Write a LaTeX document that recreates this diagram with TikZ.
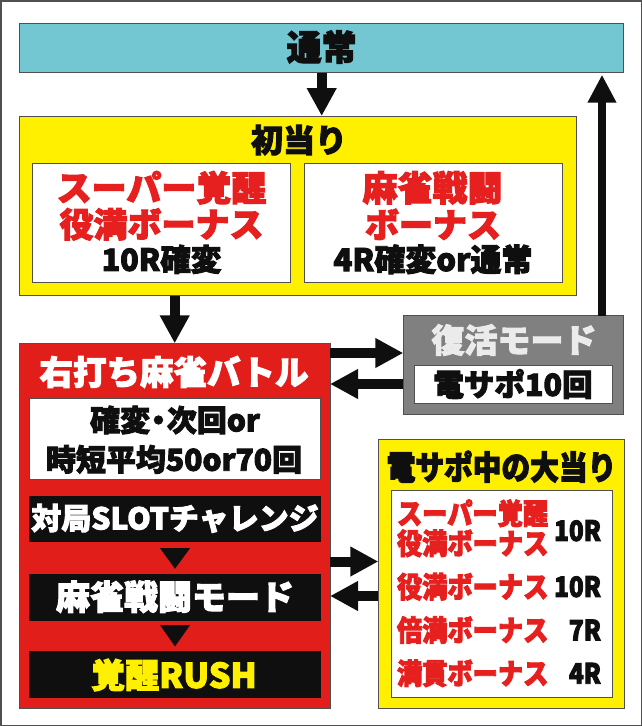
\documentclass[tikz,border=0pt]{standalone}
\usepackage{fontspec}
\usetikzlibrary{arrows.meta,calc}
\newfontfamily\jp{Noto Sans CJK JP}[BoldFeatures={FakeBold=3}]
\newfontfamily\jpc{Noto Sans CJK JP}[FakeStretch=0.87,BoldFeatures={FakeBold=3}]
\newcommand\fsz[1]{\fontsize{#1}{#1}\selectfont}
\newcommand\nakaguro{\hspace{-0.22em}・\hspace{-0.22em}}
\definecolor{cyanc}{RGB}{114,199,211}
\definecolor{yelc}{RGB}{255,240,0}
\definecolor{redc}{RGB}{226,30,26}
\definecolor{redt}{RGB}{230,32,30}
\definecolor{grayc}{RGB}{128,128,128}
\definecolor{lgrayt}{RGB}{235,235,235}
\definecolor{bordc}{RGB}{80,80,80}
\definecolor{blk}{RGB}{15,15,15}
\tikzset{
  box/.style={draw=bordc, line width=1pt, inner sep=0pt, outer sep=0pt},
  txt/.style={inner sep=0pt, outer sep=0pt, text=blk},
  farrow/.style={draw=blk, line width=10pt, -{Triangle[width=28pt,length=28pt]}},
  farrowthin/.style={draw=blk, line width=8.5pt, -{Triangle[width=27pt,length=28pt]}},
}
\begin{document}
\begin{tikzpicture}[x=1pt,y=-1pt]
\useasboundingbox (0,0) rectangle (642,726);
\fill[white] (0,0) rectangle (642,726);
\draw[bordc, line width=1.5pt] (0.75,0.75) rectangle (641.25,725.25);

% top box
\node[box, fill=cyanc, minimum width=604pt, minimum height=49.4pt] (tsujo) at (321.7,48) {};
\node[txt, font=\jp\bfseries\fsz{35}] (tsujoT) at (321.7,47) {通常};

% first hit
\node[box, fill=yelc, minimum width=556.3pt, minimum height=179.7pt] (hatsu) at (297.9,205.9) {};
\node[txt, font=\jp\bfseries\fsz{32}] (hatsuT) at (299,140) {初当り};
\node[box, fill=white, minimum width=257.5pt, minimum height=119pt] (hL) at (161.5,222.8) {};
\node[box, fill=white, minimum width=258pt, minimum height=119pt] (hR) at (433,222.8) {};
\node[txt, text=redt, font=\jp\bfseries\fsz{35}] (hL1) at (161.5,187.7) {スーパー覚醒};
\node[txt, text=redt, font=\jp\bfseries\fsz{34}] (hL2) at (161.5,224.3) {役満ボーナス};
\node[txt, font=\jp\bfseries\fsz{30.5}] (hL3) at (161.5,259.3) {10R確変};
\node[txt, text=redt, font=\jp\bfseries\fsz{35}] (hR1) at (432.5,187.7) {麻雀戦闘};
\node[txt, text=redt, font=\jp\bfseries\fsz{34}] (hR2) at (433,224.3) {ボーナス};
\node[txt, font=\jp\bfseries\fsz{31}] (hR3) at (433,259.3) {4R確変or通常};

% red battle box
\node[box, fill=redc, minimum width=310.7pt, minimum height=364.7pt] (red) at (174.7,525.7) {};
\node[txt, text=white, font=\jp\bfseries\fsz{33.5}] (redT) at (174,372) {右打ち麻雀バトル};
\node[box, fill=white, minimum width=291.4pt, minimum height=81pt] (rW) at (175,438.8) {};
\node[txt, font=\jp\bfseries\fsz{30}] (rW1) at (175,420) {確変\nakaguro 次回or};
\node[txt, font=\jp\bfseries\fsz{30}] (rW2) at (174,459.3) {時短平均50or70回};
\node[fill=blk, inner sep=0pt, minimum width=292pt, minimum height=46pt] (b1) at (175,518.7) {};
\node[fill=blk, inner sep=0pt, minimum width=292pt, minimum height=46.7pt] (b2) at (175,597.3) {};
\node[fill=blk, inner sep=0pt, minimum width=292pt, minimum height=46.7pt] (b3) at (175,674.3) {};
\node[txt, text=white, font=\jp\bfseries\fsz{30}] (b1T) at (175,518.3) {対局SLOTチャレンジ};
\node[txt, text=white, font=\jp\bfseries\fsz{34}] (b2T) at (175,596.7) {麻雀戦闘モード};
\node[txt, text=yelc, font=\jp\bfseries\fsz{34}] (b3T) at (174,675) {覚醒RUSH};
\fill[blk] ($(b1.south)+(-15,6.3)$) -- ($(b1.south)+(15,6.3)$) -- ($(b2.north)+(0,-5)$) -- cycle;
\fill[blk] ($(b2.south)+(-15,4.3)$) -- ($(b2.south)+(15,4.3)$) -- ($(b3.north)+(0,-4.3)$) -- cycle;

% revival mode
\node[box, fill=grayc, minimum width=220pt, minimum height=99.3pt] (fk) at (513.3,365.3) {};
\node[txt, text=lgrayt, font=\jp\bfseries\fsz{33}] (fkT) at (514,340) {復活モード};
\node[box, fill=white, minimum width=198pt, minimum height=38.3pt] (fkW) at (513,384.2) {};
\node[txt, font=\jp\bfseries\fsz{30.5}] (fkW1) at (513,384) {電サポ10回};

% densapo hits
\node[box, fill=yelc, minimum width=245.7pt, minimum height=269pt] (ds) at (501.2,573.8) {};
\node[txt, font=\jpc\bfseries\fsz{33}] (dsT) at (501.5,466.7) {電サポ中の大当り};
\node[box, fill=white, minimum width=220.6pt, minimum height=206.6pt] (dsW) at (502,594) {};
\node[txt, text=redt, anchor=west, font=\jpc\bfseries\fsz{29}] (d1a) at (397,513.3) {スーパー覚醒};
\node[txt, text=redt, anchor=west, font=\jpc\bfseries\fsz{29}] (d1b) at (397,543.3) {役満ボーナス};
\node[txt, anchor=east, font=\jpc\bfseries\fsz{28}] (d1r) at (601,530.7) {10R};
\node[txt, text=redt, anchor=west, font=\jpc\bfseries\fsz{29}] (d2) at (397,586.7) {役満ボーナス};
\node[txt, anchor=east, font=\jpc\bfseries\fsz{28}] (d2r) at (601,586.7) {10R};
\node[txt, text=redt, anchor=west, font=\jpc\bfseries\fsz{29}] (d3) at (397,630) {倍満ボーナス};
\node[txt, anchor=east, font=\jpc\bfseries\fsz{28}] (d3r) at (601,630) {7R};
\node[txt, text=redt, anchor=west, font=\jpc\bfseries\fsz{29}] (d4) at (397,673.3) {満貫ボーナス};
\node[txt, anchor=east, font=\jpc\bfseries\fsz{28}] (d4r) at (601,673.3) {4R};

% connectors
\coordinate (upx) at (602,0);
\coordinate (ya) at (0,353);
\coordinate (yb) at (0,384);
\coordinate (yc) at (0,561.5);
\coordinate (yd) at (0,596);
\draw[farrow] (tsujo.south) -- (tsujo.south |- hatsu.north);
\draw[farrow] (hatsu.south -| red.north) -- (red.north);
\draw[farrowthin] (fk.north -| upx) -- ($(tsujo.south -| upx)+(0,2)$);
\draw[farrow] (red.east |- ya) -- (fk.west |- ya);
\draw[farrow] (fk.west |- yb) -- (red.east |- yb);
\draw[farrow] (red.east |- yc) -- (ds.west |- yc);
\draw[farrow] (ds.west |- yd) -- (red.east |- yd);
\end{tikzpicture}
\end{document}
